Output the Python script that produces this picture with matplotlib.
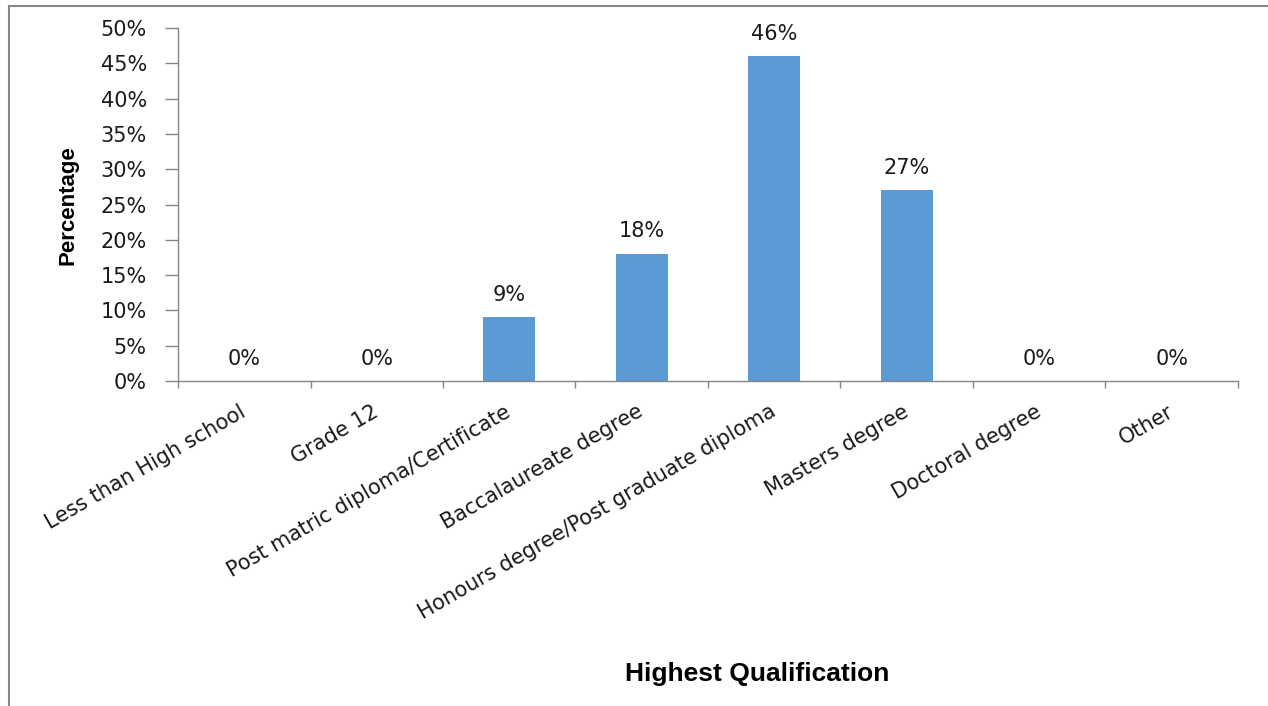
import matplotlib
matplotlib.use("Agg")
import matplotlib.pyplot as plt
from matplotlib.lines import Line2D
from matplotlib.ticker import FuncFormatter, FixedLocator
import numpy as np

categories = [
    "Less than High school",
    "Grade 12",
    "Post matric diploma/Certificate",
    "Baccalaureate degree",
    "Honours degree/Post graduate diploma",
    "Masters degree",
    "Doctoral degree",
    "Other",
]
percent_values = [0, 0, 9, 18, 46, 27, 0, 0]
y_ticks = [0, 5, 10, 15, 20, 25, 30, 35, 40, 45, 50]

bar_color = "#5B9BD5"
axis_color = "#868686"
tick_font = "DejaVu Sans"
text_color = "#1a1a1a"

fig = plt.figure(figsize=(12.68, 7.06), dpi=100)
ax = fig.add_axes([0.1404, 0.4603, 0.9763 - 0.1404, 0.9603 - 0.4603])

x = np.arange(len(categories))
values = np.array(percent_values) / 100.0
ax.bar(x, values, width=0.39, color=bar_color, zorder=2)

ax.set_xlim(-0.5, len(categories) - 0.5)
ax.set_ylim(0, 0.5)

# value labels above each bar
for xi, v, p in zip(x, values, percent_values):
    ax.annotate(f"{p}%", xy=(xi, v), xytext=(0, 9), textcoords="offset points",
                ha="center", va="bottom", fontsize=15, family=tick_font,
                color=text_color)

# y axis
ax.yaxis.set_major_locator(FixedLocator([t / 100.0 for t in y_ticks]))
ax.yaxis.set_major_formatter(FuncFormatter(lambda v, _: f"{round(v * 100)}%"))
ax.tick_params(axis="y", which="major", direction="out", length=9.5, width=1,
               color=axis_color, pad=13, labelsize=15, labelcolor=text_color)
for lbl in ax.get_yticklabels():
    lbl.set_family(tick_font)

# x axis: labels at category centres, tick marks at category boundaries
ax.set_xticks(x)
ax.set_xticklabels(categories, rotation=30, ha="right", va="center",
                   rotation_mode="anchor", fontsize=15, family=tick_font,
                   color=text_color)
ax.set_xticks(np.arange(-0.5, len(categories)), minor=True)
ax.tick_params(axis="x", which="major", length=0, pad=21)
ax.tick_params(axis="x", which="minor", direction="out", length=5, width=1,
               color=axis_color)

for side in ("top", "right"):
    ax.spines[side].set_visible(False)
for side in ("left", "bottom"):
    ax.spines[side].set_color(axis_color)
    ax.spines[side].set_linewidth(1)

fig.text(68 / 1268, 1 - 205 / 706, "Percentage", rotation=90, ha="center",
         va="center", fontsize=16, fontweight="bold", family="Liberation Sans")
fig.text(757 / 1268, 1 - 674 / 706, "Highest Qualification", ha="center",
         va="center", fontsize=19, fontweight="bold", family="Liberation Sans")

# outer frame lines
fig.add_artist(Line2D([9 / 1268, 9 / 1268], [0, 1 - 6 / 706],
                      transform=fig.transFigure, color="#888888", lw=1.5))
fig.add_artist(Line2D([9 / 1268, 1], [1 - 6 / 706, 1 - 6 / 706],
                      transform=fig.transFigure, color="#888888", lw=1.5))

fig.savefig("out.png", dpi=100, facecolor="white")
